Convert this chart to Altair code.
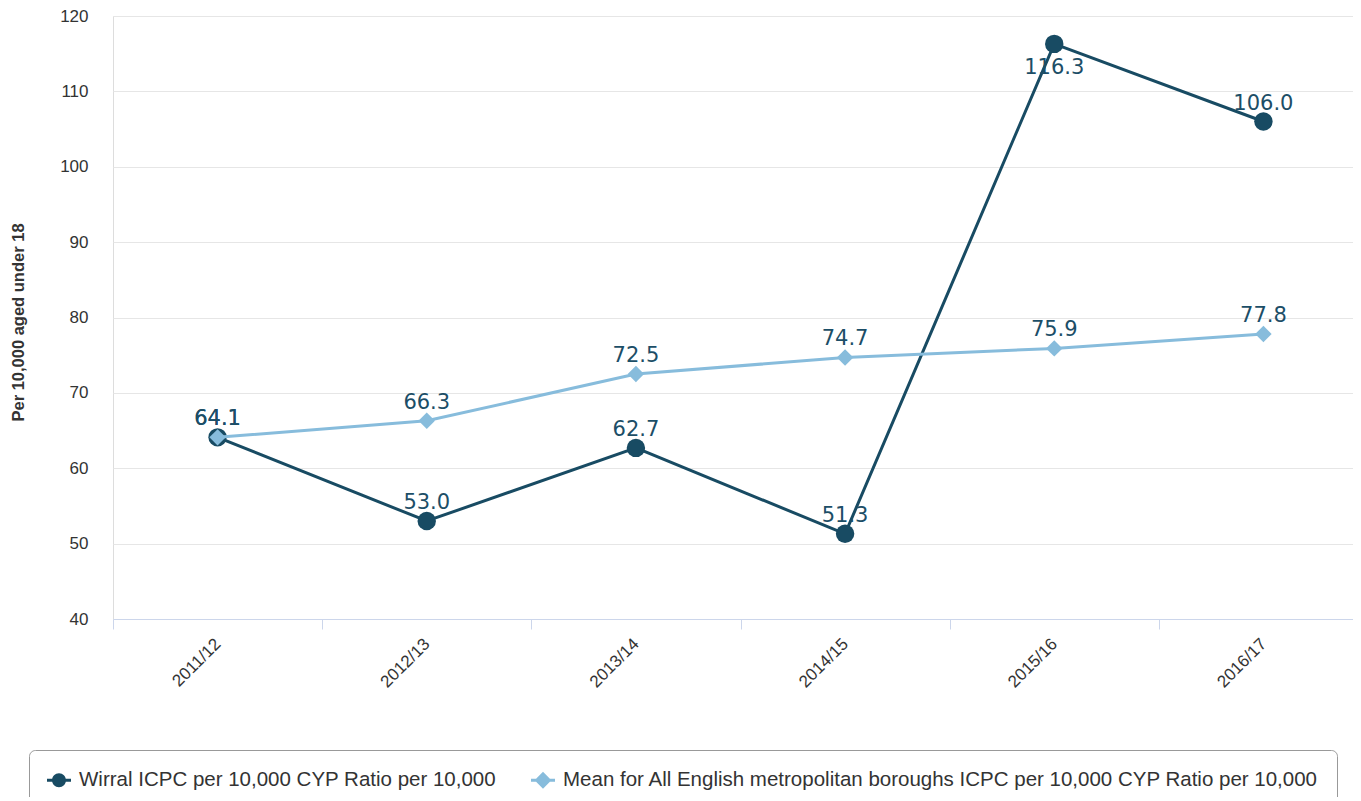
import altair as alt
import pandas as pd

years = ["2011/12", "2012/13", "2013/14", "2014/15", "2015/16", "2016/17"]
wirral = [64.1, 53.0, 62.7, 51.3, 116.3, 106.0]
mean_mb = [64.1, 66.3, 72.5, 74.7, 75.9, 77.8]

S1 = "Wirral ICPC per 10,000 CYP Ratio per 10,000"
S2 = "Mean for All English metropolitan boroughs ICPC per 10,000 CYP Ratio per 10,000"
series_names = [S1, S2]
series_colors = ["#184b63", "#87bcdc"]
label_color = "#1c4e67"

rows = []
for i, y in enumerate(years):
    rows.append({"year": y, "series": S1, "value": wirral[i]})
for i, y in enumerate(years):
    rows.append({"year": y, "series": S2, "value": mean_mb[i]})
df = pd.DataFrame(rows)

x_enc = alt.X(
    "year:N",
    sort=years,
    scale=alt.Scale(range=[0, 1255], paddingInner=0, paddingOuter=0),
    axis=alt.Axis(
        title=None,
        labelAngle=-45,
        labelAlign="right",
        labelBaseline="middle",
        labelFont="Liberation Sans",
        labelFontSize=17,
        labelColor="#333333",
        labelPadding=12,
        tickBand="extent",
        tickColor="#ccd6eb",
        tickSize=10,
        domainColor="#ccd6eb",
        domainWidth=1,
        grid=False,
    ),
)
y_scale = alt.Scale(domain=[40, 120], nice=False, zero=False)
y_enc = alt.Y(
    "value:Q",
    scale=y_scale,
    axis=alt.Axis(
        title="Per 10,000 aged under 18",
        values=[40, 50, 60, 70, 80, 90, 100, 110, 120],
        labelFont="Liberation Sans",
        labelFontSize=17,
        labelColor="#333333",
        labelPadding=25,
        ticks=False,
        domain=False,
        gridColor="#e6e6e6",
        gridWidth=1,
        titleFont="Liberation Sans",
        titleFontSize=16.5,
        titleFontWeight="bold",
        titleColor="#333333",
        titleAngle=-90,
        titleX=-95,
        titleY=306,
        titleAlign="center",
        titleBaseline="middle",
    ),
)

shape_expr = (
    "datum.index === 0 ? "
    "'M-1,-0.13L1,-0.13L1,0.13L-1,0.13Z M0.58,0A0.58,0.58,0,1,1,-0.58,0A0.58,0.58,0,1,1,0.58,0Z' : "
    "'M-1,-0.13L1,-0.13L1,0.13L-1,0.13Z M0,-0.7L0.7,0L0,0.7L-0.7,0Z'"
)

color_scale = alt.Scale(domain=series_names, range=series_colors)

color_leg = alt.Color(
    "series:N",
    scale=color_scale,
    sort=series_names,
    legend=alt.Legend(
        title=None,
        orient="none",
        legendX=-84,
        legendY=734,
        direction="horizontal",
        columns=2,
        columnPadding=34,
        labelFont="Liberation Sans",
        labelFontSize=20.5,
        labelColor="#333333",
        labelOffset=8,
        labelLimit=1000,
        symbolSize=576,
        symbolType=alt.expr(shape_expr),
        symbolStrokeWidth=0,
        symbolOpacity=1,
        strokeColor="#999999",
        fillColor="white",
        cornerRadius=6,
        padding=18,
    ),
)

base = alt.Chart(df).encode(x=x_enc, y=y_enc)

legend_src = base.mark_point(filled=True, opacity=1, size=0, strokeWidth=0).encode(color=color_leg)

w = base.transform_filter(alt.datum.series == S1)
m = base.transform_filter(alt.datum.series == S2)

line_w = w.mark_line(strokeWidth=3, color=series_colors[0])
pts_w = w.mark_point(filled=True, shape="circle", size=340, opacity=1, strokeWidth=0, color=series_colors[0])
line_m = m.mark_line(strokeWidth=3, color=series_colors[1])
pts_m = m.mark_point(filled=True, shape="diamond", size=270, opacity=1, strokeWidth=0, color=series_colors[1])

lbl_common = dict(font="DejaVu Sans", fontSize=21, color=label_color, align="center", baseline="alphabetic")
labels_above = base.transform_filter(alt.datum.value < 115).mark_text(dy=-12, **lbl_common).encode(
    text=alt.Text("value:Q", format=".1f")
)
labels_below = base.transform_filter(alt.datum.value >= 115).mark_text(dy=30, **lbl_common).encode(
    text=alt.Text("value:Q", format=".1f")
)

chart = (
    alt.layer(legend_src, line_w, pts_w, line_m, pts_m, labels_above, labels_below)
    .properties(
        width=1240,
        height=603,
        autosize=alt.AutoSizeParams(type="none"),
        padding={"left": 105, "top": 8, "right": 0, "bottom": 178},
    )
    .configure_view(stroke=None)
    .configure(background="white")
)

chart.save("out.html", embed_options={"renderer": "svg", "actions": False})
